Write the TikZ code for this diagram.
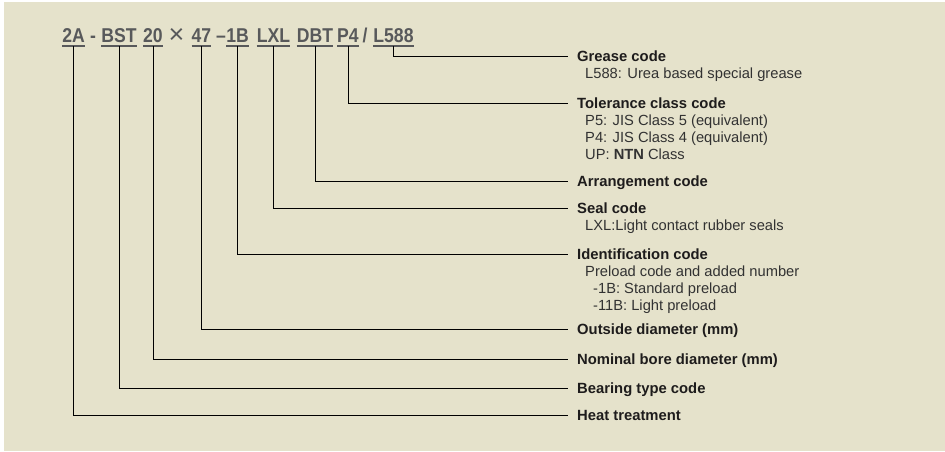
\documentclass[tikz,border=0pt]{standalone}
\usepackage{fontspec}
\setmainfont{Liberation Sans}
\newfontfamily\codefam[FakeStretch=0.88]{Liberation Sans}
\definecolor{panel}{RGB}{229,226,203}
\definecolor{codegrey}{RGB}{88,89,91}
\definecolor{headcol}{RGB}{30,28,28}
\definecolor{subcol}{RGB}{50,50,50}
\newcommand\mycodefont{\codefam\fontsize{20}{22}\bfseries\selectfont}
\newcommand\mytimesfont{\fontsize{27}{28}\selectfont}
\newcommand\myheadfont{\fontsize{14.8}{16}\bfseries\selectfont}
\newcommand\mysubfont{\fontsize{14.7}{16}\selectfont}
\begin{document}
\begin{tikzpicture}[x=1pt,y=-1pt,
  codetok/.style={font=\mycodefont, text=codegrey, inner sep=0pt, anchor=base},
  septok/.style={font=\mycodefont, text=codegrey, inner sep=0pt, anchor=base},
  uline/.style={draw=codegrey, line width=1.4pt},
  conn/.style={draw=black, line width=1pt},
  headtxt/.style={font=\myheadfont, text=headcol, inner sep=0pt, anchor=base west},
  subtxt/.style={font=\mysubfont, text=subcol, inner sep=0pt, anchor=base west}]
\useasboundingbox (0,0) rectangle (945,451);
\fill[panel] (3.5,2) rectangle (945,451);
% code tokens
\node[codetok] (c2A) at (73.5,42) {2A};
\node[septok] (s1) at (93,42) {-};
\node[codetok] (cBST) at (119,42) {BST};
\node[codetok] (c20) at (153,42) {20};
\node[septok, font=\mytimesfont] (s2) at (176.5,43) {×};
\node[codetok] (c47) at (201.5,42) {47};
\node[septok] (s3) at (221,42) {–};
\node[codetok] (c1B) at (237.5,42) {1B};
\node[codetok] (cLXL) at (273.5,42) {LXL};
\node[codetok] (cDBT) at (315,42) {DBT};
\node[codetok] (cP4) at (348,42) {P4};
\node[septok] (s4) at (365,42) {/};
\node[codetok] (cL588) at (393.5,42) {L588};
% underlines
\foreach \t in {c2A,cBST,c20,c47,c1B,cLXL,cDBT,cP4,cL588}{
  \draw[uline] ([yshift=-4pt]\t.base west) -- ([yshift=-4pt]\t.base east);
}
% line ends
\coordinate (e1) at (568,56);
\coordinate (e2) at (568,103);
\coordinate (e3) at (568,181);
\coordinate (e4) at (568,208);
\coordinate (e5) at (568,254);
\coordinate (e6) at (568,329);
\coordinate (e7) at (568,359);
\coordinate (e8) at (568,388);
\coordinate (e9) at (568,415);
% connectors
\draw[conn] ([yshift=-4pt]cL588.base) |- (e1);
\draw[conn] ([yshift=-4pt]cP4.base) |- (e2);
\draw[conn] ([yshift=-4pt]cDBT.base) |- (e3);
\draw[conn] ([yshift=-4pt]cLXL.base) |- (e4);
\draw[conn] ([yshift=-4pt]c1B.base) |- (e5);
\draw[conn] ([yshift=-4pt]c47.base) |- (e6);
\draw[conn] ([yshift=-4pt]c20.base) |- (e7);
\draw[conn] ([yshift=-4pt]cBST.base) |- (e8);
\draw[conn] ([yshift=-4pt]c2A.base) |- (e9);
% labels
\node[headtxt] (h1) at ([shift={(9,5.2)}]e1) {Grease code};
\node[subtxt] (h1a) at (585,78.2) {L588: Urea based special grease};
\node[headtxt] (h2) at ([shift={(9,5.2)}]e2) {Tolerance class code};
\node[subtxt] (h2a) at (585,125.2) {P5: JIS Class 5 (equivalent)};
\node[subtxt] (h2b) at (585,142.2) {P4: JIS Class 4 (equivalent)};
\node[subtxt] (h2c) at (585,159.2) {UP: \textbf{NTN} Class};
\node[headtxt] (h3) at ([shift={(9,5.2)}]e3) {Arrangement code};
\node[headtxt] (h4) at ([shift={(9,5.2)}]e4) {Seal code};
\node[subtxt] (h4a) at (585,230.2) {LXL:Light contact rubber seals};
\node[headtxt] (h5) at ([shift={(9,5.2)}]e5) {Identification code};
\node[subtxt] (h5a) at (585,276.2) {Preload code and added number};
\node[subtxt] (h5b) at (593,293.2) {-1B: Standard preload};
\node[subtxt] (h5c) at (593,310.2) {-11B: Light preload};
\node[headtxt] (h6) at ([shift={(9,5.2)}]e6) {Outside diameter (mm)};
\node[headtxt] (h7) at ([shift={(9,5.2)}]e7) {Nominal bore diameter (mm)};
\node[headtxt] (h8) at ([shift={(9,5.2)}]e8) {Bearing type code};
\node[headtxt] (h9) at ([shift={(9,5.2)}]e9) {Heat treatment};
\end{tikzpicture}
\end{document}
